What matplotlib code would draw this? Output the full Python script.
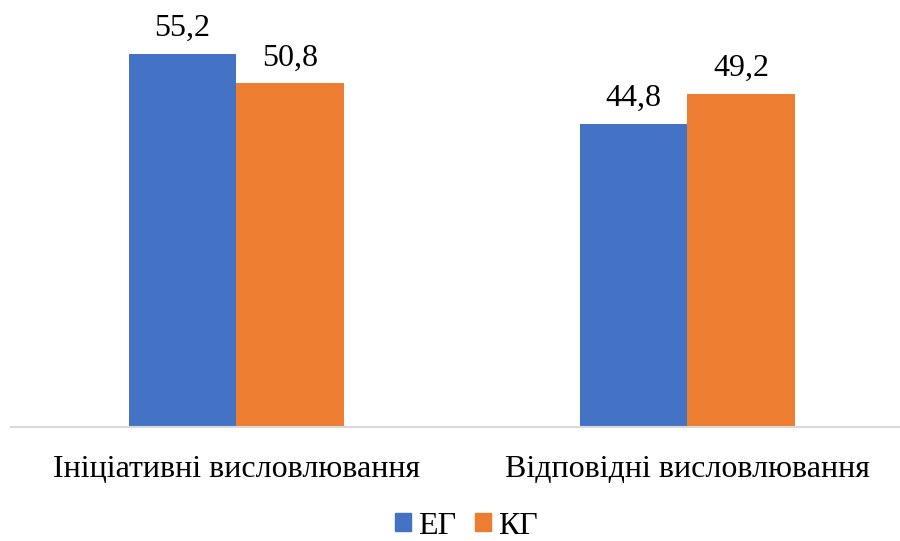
import matplotlib
matplotlib.use("Agg")
import matplotlib.pyplot as plt
from matplotlib.patches import Rectangle
import numpy as np

plt.rcParams['font.family'] = ['Liberation Serif', 'DejaVu Serif']

categories = ["Ініціативні висловлювання", "Відповідні висловлювання"]
series_names = ["ЕГ", "КГ"]
eg_values = [55.2, 44.8]
kg_values = [50.8, 49.2]
colors = ["#4472C4", "#ED7D31"]

fig = plt.figure(figsize=(9.0, 5.41), dpi=100)
W, H = 900, 541
left_px, right_px = 10.8, 912.8
bottom_px, top_px = 427.0, 427.0 - 60 * 6.762
ax = fig.add_axes([left_px / W, 1 - bottom_px / H,
                   (right_px - left_px) / W, (bottom_px - top_px) / H])

x = np.arange(len(categories))
bw = 0.2384
bars_eg = ax.bar(x - bw / 2, eg_values, bw, color=colors[0], label=series_names[0])
bars_kg = ax.bar(x + bw / 2, kg_values, bw, color=colors[1], label=series_names[1])

for bars, vals in ((bars_eg, eg_values), (bars_kg, kg_values)):
    for b, v in zip(bars, vals):
        ax.annotate(f"{v:.1f}".replace(".", ","),
                    (b.get_x() + b.get_width() / 2, v),
                    xytext=(0, 13), textcoords="offset points",
                    ha="center", va="baseline", fontsize=23)

ax.set_xlim(-0.5, 1.5)
ax.set_ylim(0, 60)
ax.set_xticks(x)
ax.set_xticklabels(categories, fontsize=23)
ax.tick_params(axis="x", length=0, pad=20)
ax.set_yticks([])
for s in ("top", "right", "left"):
    ax.spines[s].set_visible(False)
ax.spines["bottom"].set_color("#d9d9d9")
ax.spines["bottom"].set_linewidth(1.5)

handles = [Rectangle((0, 0), 1, 1, color=c) for c in colors]
fig.legend(handles, series_names, loc="center", bbox_to_anchor=(466.5 / W, 1 - 526 / H),
           ncol=2, frameon=False, fontsize=23, handlelength=0.5, handleheight=0.5,
           handletextpad=0.22, columnspacing=0.6, borderpad=0, borderaxespad=0)

fig.savefig("out.png", dpi=100)
